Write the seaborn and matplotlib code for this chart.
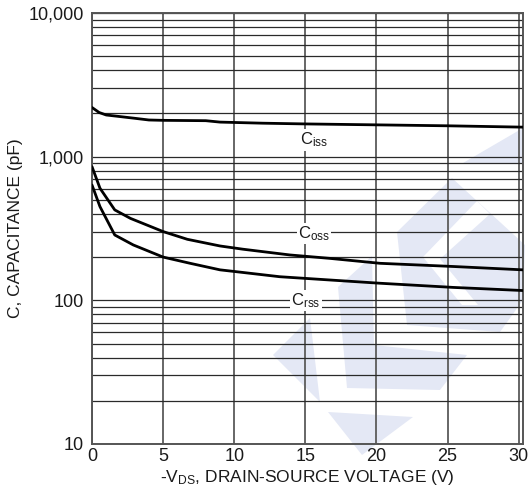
import numpy as np
import pandas as pd
import matplotlib
matplotlib.use("Agg")
import matplotlib.pyplot as plt
import seaborn as sns
from matplotlib.patches import Polygon
from matplotlib.ticker import FixedLocator, FixedFormatter, NullFormatter

# ---- data ----
v_iss = [0, 0.5, 1, 2, 3, 4, 5, 8, 9, 10, 12, 15, 20, 25, 30.3]
c_iss = [2200, 2030, 1950, 1900, 1850, 1800, 1790, 1780, 1740, 1730, 1710, 1690, 1665, 1640, 1605]
v_oss = [0, 0.56, 1.6, 2.7, 5, 6.7, 9, 10.6, 13.9, 16.7, 20.25, 25.4, 30.3]
c_oss = [852, 603, 426, 372, 301, 266, 239, 227, 207, 196, 181, 172, 163]
v_rss = [0, 0.56, 1.6, 2.9, 5, 6.9, 9, 10.2, 13.2, 16.5, 20.25, 25.4, 30.3]
c_rss = [635, 449, 285, 243, 200, 181, 163, 158, 146, 139, 131.5, 123, 117]

x_ticks = [0, 5, 10, 15, 20, 25, 30]
y_ticks = [10, 100, 1000, 10000]
y_tick_labels = ["10", "100", "1,000", "10,000"]

curve_labels = [r"C$_{\mathregular{iss}}$", r"C$_{\mathregular{oss}}$", r"C$_{\mathregular{rss}}$"]
label_pos = [(15.6, 1306), (15.6, 290), (15.05, 99)]

df = pd.concat([
    pd.DataFrame({"V": v_iss, "C": c_iss, "curve": "Ciss"}),
    pd.DataFrame({"V": v_oss, "C": c_oss, "curve": "Coss"}),
    pd.DataFrame({"V": v_rss, "C": c_rss, "curve": "Crss"}),
])

sns.set_theme(style="white")
plt.rcParams["font.family"] = ["Liberation Sans", "DejaVu Sans"]
plt.rcParams["mathtext.default"] = "regular"

W, H = 529, 491
fig = plt.figure(figsize=(W / 100, H / 100), dpi=100)
ax = fig.add_axes([92 / W, 1 - 444 / H, (523 - 92) / W, (444 - 13) / H])

# watermark logo (decoration only, figure pixel coords)
logo_blue = [
    [(273, 355), (310, 318), (320, 402)],
    [(328, 412), (413, 417), (362, 455)],
    [(338, 287), (372, 256), (374, 345), (467, 355), (440, 390), (347, 388)],
    [(397, 232), (452, 178), (525, 245), (523, 300), (500, 332), (407, 325)],
    [(463, 163), (523, 128), (523, 163)],
]
logo_white = [
    [(477, 201), (423, 257), (462, 305), (478, 305), (440, 259), (490, 214)],
]
for poly, col in [(p, "#e4e8f5") for p in logo_blue] + [(p, "white") for p in logo_white]:
    pts = [(px / W, 1 - py / H) for px, py in poly]
    ax.add_patch(Polygon(pts, closed=True, transform=fig.transFigure, clip_on=False,
                         facecolor=col, edgecolor="none", zorder=0.1))

sns.lineplot(data=df, x="V", y="C", units="curve", estimator=None, sort=False,
             color="black", linewidth=2.0, ax=ax, legend=False, zorder=3)

ax.set_yscale("log")
ax.set_xlim(0, 30.3)
ax.set_ylim(10, 10000)

ax.xaxis.set_major_locator(FixedLocator(x_ticks))
ax.set_xticklabels([str(t) for t in x_ticks])
ax.yaxis.set_major_locator(FixedLocator(y_ticks))
ax.yaxis.set_major_formatter(FixedFormatter(y_tick_labels))
minor = [m * d for d in (10, 100, 1000) for m in range(2, 10)]
ax.yaxis.set_minor_locator(FixedLocator(minor))
ax.yaxis.set_minor_formatter(NullFormatter())

ax.set_axisbelow(True)
ax.grid(True, axis="y", which="both", color="#2a2a2a", linewidth=0.9)
ax.grid(True, axis="x", which="major", color="#666666", linewidth=1.4)

ax.tick_params(axis="both", which="both", length=0, labelsize=13, colors="#1a1a1a")
ax.tick_params(axis="x", pad=3)
ax.tick_params(axis="y", pad=6)

for s in ax.spines.values():
    s.set_color("#555555")
    s.set_linewidth(1.4)

ax.set_xlabel(r"-V$_{\mathregular{DS}}$, DRAIN-SOURCE VOLTAGE (V)", fontsize=12.5,
              color="#1a1a1a", labelpad=2)
ax.set_ylabel("C, CAPACITANCE (pF)", fontsize=12.5, color="#1a1a1a", labelpad=4)

for txt, (lx, ly) in zip(curve_labels, label_pos):
    ax.text(lx, ly, txt, fontsize=12, ha="center", va="center", color="#1a1a1a",
            zorder=5, bbox=dict(facecolor="white", edgecolor="none", pad=0.8))

fig.savefig("out.png", dpi=100)
